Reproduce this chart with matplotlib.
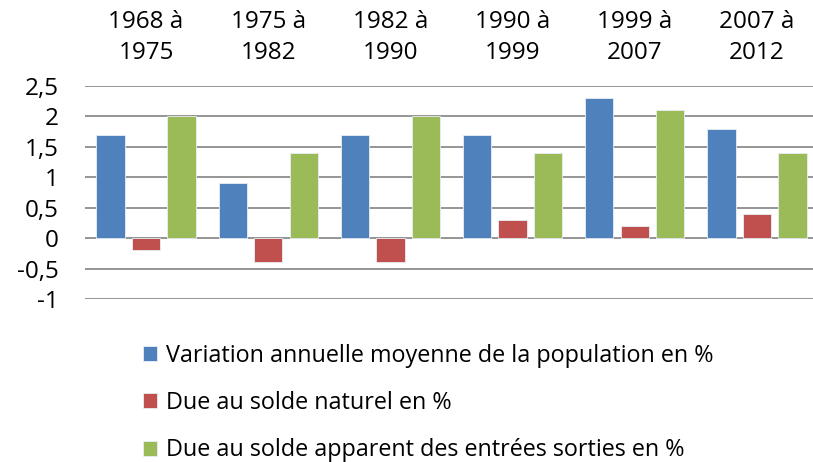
import numpy as np
import matplotlib.pyplot as plt

# data
periods = ['1968 à\n1975', '1975 à\n1982', '1982 à\n1990',
           '1990 à\n1999', '1999 à\n2007', '2007 à\n2012']
variation = [1.7, 0.9, 1.7, 1.7, 2.3, 1.8]
solde_naturel = [-0.2, -0.4, -0.4, 0.3, 0.2, 0.4]
solde_apparent = [2.0, 1.4, 2.0, 1.4, 2.1, 1.4]
labels = ['Variation annuelle moyenne de la population en %',
          'Due au solde naturel en %',
          'Due au solde apparent des entrées sorties en %']
yticks = [-1, -0.5, 0, 0.5, 1, 1.5, 2, 2.5]

colors = ['#4F81BD', '#C0504D', '#9BBB59']

plt.rcParams['font.family'] = ['Open Sans', 'DejaVu Sans']

fig = plt.figure(figsize=(8.13, 4.62), dpi=100)
ax = fig.add_axes([85 / 813, 1 - 299 / 462, 733 / 813, 213 / 462])

x = np.arange(len(periods))
step = 0.29
width = 0.232
series = [variation, solde_naturel, solde_apparent]
bars = []
for i, (vals, col) in enumerate(zip(series, colors)):
    b = ax.bar(x + (i - 1) * step, vals, width, color=col,
               edgecolor='#e8eef6', linewidth=0.6, zorder=3)
    bars.append(b)

ax.set_xlim(-0.5, len(periods) - 0.5)
ax.set_ylim(-1, 2.5)
ax.set_yticks(yticks)
ax.set_yticklabels([('%g' % v).replace('.', ',') for v in yticks])
ax.yaxis.grid(True, color='#8c8c8c', linewidth=1.3, zorder=0)
ax.set_axisbelow(True)
for s in ax.spines.values():
    s.set_visible(False)

ax.xaxis.tick_top()
ax.set_xticks(x)
ax.set_xticklabels(periods, linespacing=1.38)
ax.tick_params(axis='x', length=0, pad=15, labelsize=17.5)
ax.tick_params(axis='y', length=0, pad=19, labelsize=17.5)

fig.legend([b[0] for b in bars], labels, loc='upper left',
           bbox_to_anchor=(131 / 813, 1 - 332 / 462), frameon=False,
           fontsize=16.8, handlelength=0.62, handleheight=0.62,
           handletextpad=0.4, labelspacing=1.0, borderpad=0)

fig.savefig('out.png', dpi=100)
